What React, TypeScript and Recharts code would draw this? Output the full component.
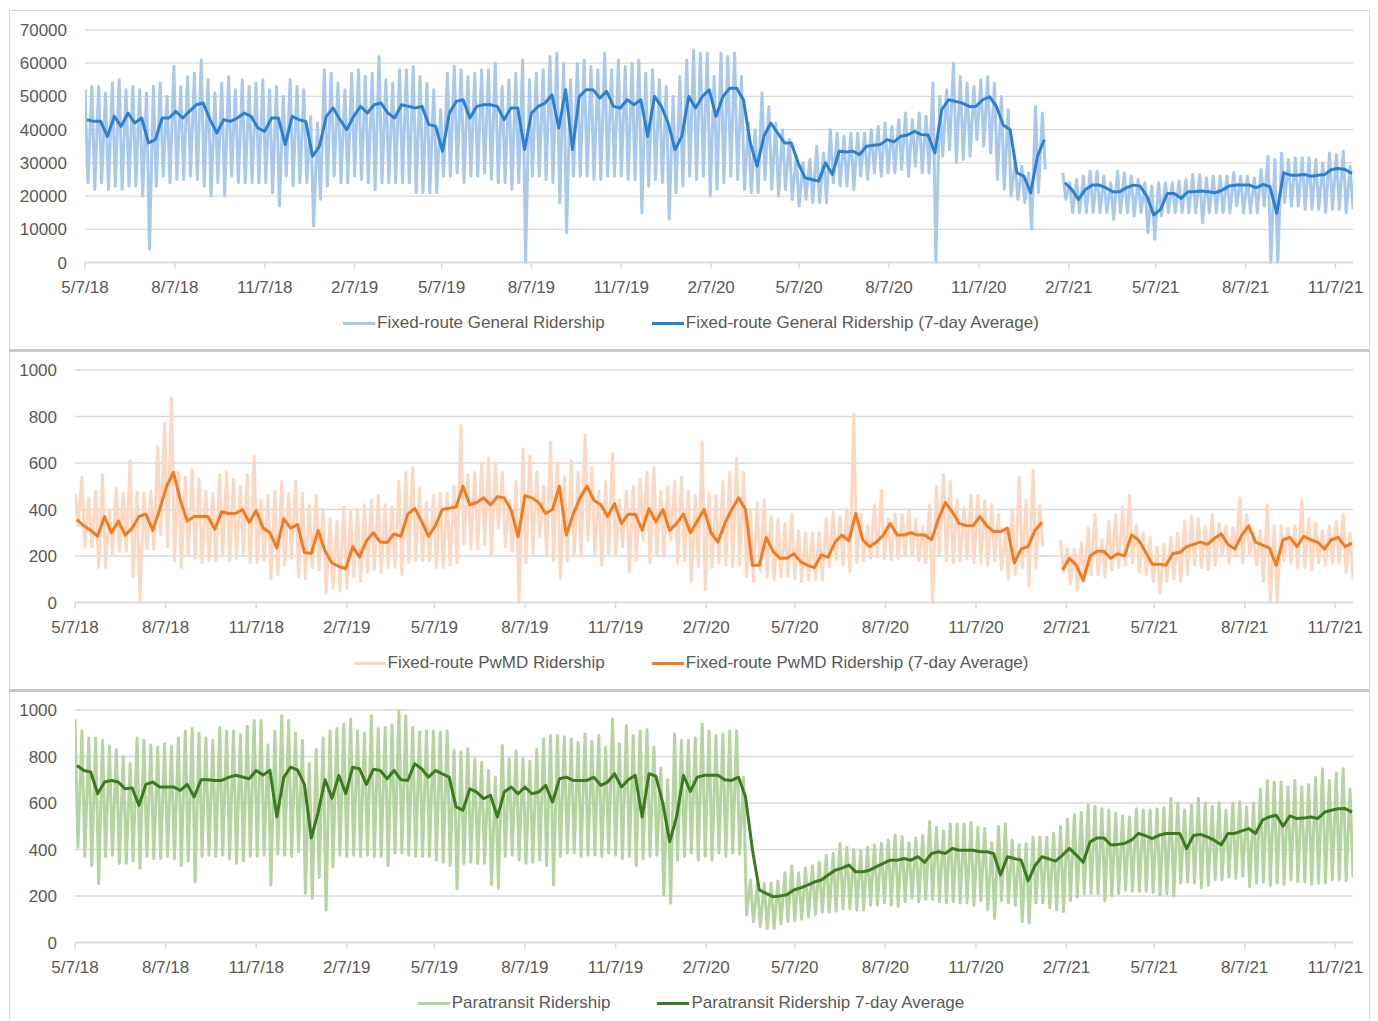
import React from 'react'
import { LineChart, Line, XAxis, YAxis, CartesianGrid, Legend } from 'recharts'

// x positions are days since 5/7/18, one entry per week (w -> day 7w)
const tickDays = [0, 92, 184, 276, 365, 457, 549, 641, 731, 823, 915, 1007, 1096, 1188, 1280]
const tickLabels = ['5/7/18', '8/7/18', '11/7/18', '2/7/19', '5/7/19', '8/7/19', '11/7/19', '2/7/20', '5/7/20', '8/7/20', '11/7/20', '2/7/21', '5/7/21', '8/7/21', '11/7/21']

// fixed-route general ridership, thousands (weekday high / weekend low / 7-day avg)
const generalHi = [
    52, 53, 53, 51, 54, 55, 52, 53, 52, 51,
    53, 54, 50, 59, 53, 56, 57, 61, 55, 51,
    54, 56, 52, 55, 53, 54, 55, 52, 53, 50,
    55, 53, 52, 44, 42, 58, 57, 54, 52, 57,
    58, 56, 57, 62, 55, 54, 58, 58, 59, 56,
    54, 52, 46, 57, 59, 58, 56, 57, 58, 58,
    60, 53, 55, 57, 61, 55, 57, 58, 62, 63,
    60, 55, 60, 61, 59, 58, 63, 58, 61, 59,
    60, 61, 57, 58, 55, 53, 50, 56, 61, 64,
    63, 63, 56, 63, 62, 63, 56, 42, 40, 51,
    47, 42, 40, 37, 32, 30, 31, 35, 33, 40,
    39, 38, 39, 39, 39, 40, 41, 42, 41, 43,
    45, 43, 45, 44, 54, 50, 52, 60, 56, 54,
    53, 55, 56, 54, 50, 46, 30, 29, 27, 47,
    45, null, null, 27, 24, 25, 26, 27.5, 27.5, 26,
    24, 27.5, 27, 26, 25, 24, 23, 24, 24, 24,
    24.5, 25, 26.5, 26.5, 25.5, 26, 26, 26, 27, 26,
    26, 25.5, 28, 32, 31, 33, 31, 31.5, 31.5, 31.5,
    31, 30, 33, 32.5, 33.5, 29,
]
const generalLo = [
    24, 22, 24, 22, 23, 22, 23, 23, 20, 4,
    23, 26, 24, 25, 25, 26, 25, 23, 20, 24,
    20, 26, 24, 24, 24, 24, 24, 21, 17, 26,
    23, 24, 24, 11, 19, 23, 26, 24, 24, 26,
    25, 24, 22, 24, 24, 24, 24, 24, 21, 21,
    21, 21, 26, 26, 27, 24, 26, 26, 27, 25,
    24, 24, 22, 24, 0, 26, 26, 25, 24, 18,
    9, 26, 26, 26, 25, 25, 26, 26, 26, 25,
    25, 15, 23, 25, 24, 13, 21, 23, 26, 25,
    26, 20, 22, 24, 26, 25, 22, 21, 21, 25,
    22, 20, 22, 19, 17, 19, 18, 18, 18, 24,
    23, 23, 22, 26, 25, 27, 26, 27, 27, 28,
    26, 29, 27, 27, 0, 32, 34, 30, 31, 32,
    37, 35, 33, 25, 22, 20, 19, 18, 10, 21,
    28, null, null, 19, 15, 15, 15, 15, 15, 15,
    13, 15, 15, 14, 15, 9, 7, 14, 15, 15,
    15, 15, 15, 12, 15, 15, 15, 15, 17, 15,
    15, 15, 17, 0, 0, 18, 17, 17, 16, 16,
    16, 15, 16, 16, 15, 16,
]
const generalAvg = [
    43, 42.5, 42.5, 38, 44, 41, 45, 42, 43.5, 36,
    37, 43.5, 43.5, 45.5, 43.5, 45.5, 47.5, 48, 43, 39,
    43, 42.5, 43.5, 45, 44, 40.5, 39.5, 43.5, 43.5, 35.5,
    44, 43, 42.5, 32, 35, 44, 46.5, 43, 40, 44,
    47, 45, 47.5, 48, 45, 43.5, 47.5, 47, 46.5, 47,
    41.5, 41, 33.5, 45, 48.5, 49, 43.5, 47, 47.5, 47.5,
    47, 43, 46.5, 46.5, 34, 45, 47, 48, 50.5, 40.5,
    52, 34, 50, 52, 52, 49.5, 51.5, 47, 46.5, 49,
    47.5, 49, 38, 50, 47, 42, 34, 38, 50, 46.5,
    50, 52, 44, 50, 52.5, 52.5, 49, 36, 29, 38,
    42, 39, 36, 36, 30, 25.5, 25, 24.5, 30, 26.5,
    33.5, 33.3, 33.5, 32.5, 35, 35.3, 35.5, 37, 36.3, 38,
    38.4, 39.5, 38.5, 38.4, 33, 46, 49, 48.5, 48, 47,
    47, 49, 49.9, 47, 41.4, 40, 27, 26, 21, 32,
    37, null, null, 24, 22, 19, 22, 23.3, 23.3, 22.5,
    21.3, 21.3, 22.5, 23.3, 23, 20, 14.3, 16, 20.8, 20.8,
    19.3, 21.3, 21.3, 21.5, 21.3, 21, 21.8, 23, 23.3, 23.3,
    23.3, 22.5, 23.5, 22.8, 14.8, 27, 26.3, 26.3, 26.5, 26,
    26.3, 26.5, 28, 28.3, 28, 26.8,
]

// fixed-route PwMD ridership
const pwmdHi = [
    470, 540, 450, 480, 550, 400, 490, 470, 610, 475,
    470, 480, 670, 770, 880, 560, 540, 570, 530, 480,
    470, 550, 560, 530, 500, 550, 630, 440, 460, 480,
    520, 470, 520, 470, 420, 460, 400, 360, 350, 410,
    390, 400, 420, 440, 460, 420, 410, 520, 560, 580,
    490, 430, 460, 470, 470, 500, 760, 550, 560, 600,
    620, 600, 560, 440, 520, 660, 630, 560, 500, 690,
    600, 540, 610, 560, 720, 580, 480, 520, 640, 440,
    480, 500, 530, 560, 580, 480, 500, 520, 540, 480,
    460, 690, 470, 460, 520, 560, 620, 560, 400, 430,
    440, 370, 360, 340, 380, 310, 300, 300, 300, 360,
    390, 370, 400, 810, 380, 330, 420, 480, 360, 380,
    380, 400, 360, 330, 420, 500, 550, 520, 440, 410,
    460, 460, 440, 420, 380, 300, 400, 540, 440, 570,
    420, null, null, 270, 230, 230, 260, 320, 380, 270,
    350, 380, 410, 460, 330, 300, 280, 240, 250, 280,
    300, 350, 370, 360, 330, 380, 340, 330, 320, 450,
    380, 300, 310, 420, 330, 330, 320, 330, 440, 360,
    340, 310, 330, 350, 380, 300,
]
const pwmdLo = [
    330, 240, 240, 150, 150, 210, 220, 220, 110, 5,
    230, 230, 290, 240, 180, 150, 200, 190, 170, 180,
    180, 200, 180, 190, 210, 170, 170, 180, 100, 120,
    160, 190, 110, 100, 150, 140, 40, 60, 50, 60,
    110, 90, 130, 140, 130, 150, 150, 120, 170, 180,
    180, 180, 150, 150, 160, 170, 250, 230, 230, 250,
    200, 320, 240, 220, 0, 170, 210, 280, 200, 180,
    104, 180, 200, 200, 269, 200, 160, 211, 200, 240,
    133, 180, 269, 169, 200, 197, 269, 169, 180, 90,
    154, 54, 150, 169, 160, 154, 161, 110, 90, 133,
    110, 97, 111, 111, 100, 90, 97, 100, 97, 154,
    183, 160, 133, 169, 180, 190, 197, 190, 183, 190,
    200, 200, 180, 170, 0, 210, 180, 170, 180, 190,
    170, 170, 160, 180, 140, 100, 120, 150, 70, 150,
    240, null, null, 130, 80, 55, 90, 120, 120, 110,
    140, 150, 160, 170, 130, 120, 90, 40, 90, 100,
    90, 120, 160, 150, 140, 160, 200, 170, 200, 170,
    210, 160, 90, 0, 0, 180, 170, 150, 150, 140,
    170, 160, 170, 170, 130, 100,
]
const pwmdAvg = [
    357, 330, 310, 285, 370, 300, 350, 290, 320, 370,
    380, 310, 400, 500, 560, 440, 350, 370, 370, 370,
    315, 390, 383, 383, 400, 345, 395, 320, 300, 235,
    360, 320, 335, 215, 211, 310, 220, 170, 155, 145,
    240, 195, 265, 300, 260, 258, 295, 285, 380, 405,
    350, 285, 330, 400, 405, 411, 500, 420, 430, 450,
    420, 455, 450, 397, 283, 460, 450, 430, 383, 400,
    500, 290, 380, 450, 500, 440, 420, 370, 425, 340,
    380, 380, 311, 404, 347, 400, 310, 340, 380, 300,
    350, 400, 300, 260, 340, 400, 450, 400, 160, 160,
    280, 220, 190, 190, 210, 175, 160, 150, 205, 195,
    260, 290, 265, 383, 270, 240, 260, 290, 340, 290,
    290, 300, 290, 290, 270, 360, 430, 390, 340, 330,
    330, 370, 330, 305, 305, 320, 170, 230, 240, 310,
    345, null, null, 140, 190, 160, 95, 200, 220, 220,
    190, 210, 200, 290, 270, 220, 165, 165, 160, 211,
    215, 240, 250, 260, 250, 275, 295, 250, 230, 290,
    330, 260, 247, 235, 160, 270, 280, 240, 285, 270,
    260, 230, 270, 280, 240, 255,
]

// paratransit ridership
const paraHi = [
    960, 910, 880, 880, 870, 845, 830, 800, 770, 880,
    870, 850, 840, 855, 845, 880, 910, 920, 900, 880,
    870, 925, 910, 910, 895, 930, 955, 955, 850, 910,
    975, 955, 900, 870, 770, 830, 880, 910, 920, 940,
    960, 910, 900, 975, 920, 925, 935, 995, 975, 925,
    905, 910, 910, 905, 910, 826, 820, 833, 790, 775,
    740, 710, 847, 790, 825, 790, 780, 830, 876, 890,
    890, 885, 876, 860, 897, 865, 890, 840, 961, 855,
    933, 890, 910, 915, 840, 750, 700, 897, 870, 870,
    880, 940, 910, 890, 897, 910, 910, 710, 270, 250,
    255, 255, 265, 300, 330, 300, 320, 330, 345, 375,
    383, 426, 410, 400, 395, 410, 420, 426, 440, 461,
    455, 430, 450, 460, 520, 495, 480, 510, 510, 510,
    517, 495, 490, 430, 500, 510, 440, 420, 425, 454,
    454, 454, 470, 500, 530, 550, 560, 590, 585, 575,
    570, 555, 545, 540, 575, 570, 570, 575, 580, 620,
    600, 570, 590, 620, 600, 585, 600, 570, 600, 605,
    583, 600, 660, 697, 690, 690, 670, 697, 670, 680,
    710, 747, 697, 730, 747, 660,
]
const paraLo = [
    410, 370, 330, 254, 370, 375, 340, 340, 350, 320,
    370, 360, 360, 370, 360, 330, 350, 260, 370, 375,
    370, 375, 360, 340, 350, 370, 370, 375, 247, 380,
    375, 370, 390, 211, 190, 280, 140, 325, 375, 370,
    375, 370, 375, 370, 370, 330, 385, 385, 375, 370,
    370, 370, 355, 345, 330, 230, 340, 345, 340, 340,
    250, 233, 370, 375, 355, 340, 345, 355, 330, 247,
    370, 385, 385, 370, 375, 375, 370, 385, 375, 360,
    370, 330, 360, 370, 375, 204, 169, 355, 370, 385,
    355, 370, 355, 385, 370, 385, 380, 119, 90, 69,
    60, 60, 80, 90, 95, 100, 110, 120, 130, 130,
    135, 145, 145, 140, 140, 160, 160, 170, 160, 155,
    175, 190, 175, 185, 185, 175, 170, 175, 170, 170,
    160, 180, 140, 104, 180, 170, 160, 90, 83, 170,
    170, 150, 140, 133, 180, 195, 210, 210, 210, 180,
    200, 210, 225, 220, 220, 220, 215, 205, 210, 200,
    255, 260, 255, 235, 245, 270, 270, 280, 275, 285,
    240, 255, 260, 245, 255, 250, 270, 260, 260, 250,
    255, 255, 270, 270, 265, 280,
]
const paraAvg = [
    761, 740, 733, 640, 690, 697, 690, 661, 665, 590,
    680, 690, 669, 669, 669, 654, 680, 626, 700, 700,
    697, 697, 710, 719, 712, 704, 740, 720, 740, 540,
    710, 754, 742, 680, 450, 560, 700, 620, 719, 640,
    754, 747, 680, 745, 740, 704, 740, 700, 697, 769,
    747, 711, 740, 725, 711, 583, 569, 661, 647, 619,
    633, 540, 647, 669, 640, 669, 640, 647, 676, 604,
    704, 711, 697, 697, 697, 711, 676, 690, 726, 669,
    700, 719, 540, 726, 715, 600, 433, 540, 719, 650,
    711, 719, 719, 719, 700, 697, 711, 626, 400, 226,
    211, 197, 200, 205, 226, 235, 247, 260, 269, 290,
    311, 320, 333, 304, 304, 311, 326, 340, 354, 354,
    361, 354, 369, 345, 383, 390, 383, 404, 397, 397,
    397, 390, 390, 383, 290, 369, 361, 354, 265, 330,
    369, 360, 350, 376, 405, 376, 345, 433, 450, 450,
    419, 422, 426, 440, 469, 460, 447, 461, 469, 469,
    469, 404, 460, 465, 454, 440, 420, 469, 469, 480,
    490, 469, 526, 540, 547, 500, 545, 533, 535, 540,
    533, 560, 569, 575, 576, 561,
]

const generalTicks = [0, 10000, 20000, 30000, 40000, 50000, 60000, 70000]
const smallTicks = [0, 200, 400, 600, 800, 1000]

const FONT = '"Liberation Sans", Arial, sans-serif'
const TEXT = '#595959'
const GRID = '#d9d9d9'

type Pt = { day: number; v: number | null }

function rawPoints(hi: (number | null)[], lo: (number | null)[], scale: number): Pt[] {
    const out: Pt[] = []
    hi.forEach((h, w) => {
        out.push({ day: w * 7, v: h == null ? null : h * scale })
        out.push({ day: w * 7 + 3, v: lo[w] == null ? null : (lo[w] as number) * scale })
    })
    return out
}

function avgPoints(avg: (number | null)[], scale: number): Pt[] {
    return avg.map((a, w) => ({ day: w * 7 + 2, v: a == null ? null : a * scale }))
}

type PanelProps = {
    top: number
    raw: Pt[]
    avg: Pt[]
    yTicks: number[]
    yWidth: number
    lightColor: string
    darkColor: string
    lightName: string
    darkName: string
}

function Panel({ top, raw, avg, yTicks, yWidth, lightColor, darkColor, lightName, darkName }: PanelProps) {
    const renderLegend = () => (
        <div style={{ display: 'flex', justifyContent: 'center', alignItems: 'center', height: 24, paddingLeft: 20, fontFamily: FONT, fontSize: 17, color: TEXT }}>
            <span style={{ display: 'inline-block', width: 32, height: 3, background: lightColor, marginRight: 2 }} />
            <span>{lightName}</span>
            <span style={{ display: 'inline-block', width: 32, height: 3, background: darkColor, marginLeft: 47, marginRight: 2 }} />
            <span>{darkName}</span>
        </div>
    )

    return (
        <div style={{ position: 'absolute', left: 9, top, width: 1361, height: 340, borderLeft: '1px solid #d4d4d4', borderRight: '1px solid #d4d4d4', boxSizing: 'border-box' }}>
            <div style={{ position: 'absolute', left: -1, top: 0 }}>
                <LineChart width={1361} height={340} margin={{ top: 20, right: 17, left: 0, bottom: 15 }}>
                    <CartesianGrid vertical={false} stroke={GRID} strokeWidth={1.3} />
                    <XAxis
                        type="number"
                        dataKey="day"
                        domain={[0, 1298]}
                        allowDataOverflow
                        ticks={tickDays}
                        interval={0}
                        tickFormatter={(d: number) => tickLabels[tickDays.indexOf(d)]}
                        height={48.5}
                        stroke={GRID}
                        strokeWidth={1.5}
                        tickSize={6}
                        tickMargin={12.6}
                        tick={{ fill: TEXT, fontSize: 17, fontFamily: FONT }}
                    />
                    <YAxis
                        type="number"
                        domain={[yTicks[0], yTicks[yTicks.length - 1]]}
                        ticks={yTicks}
                        width={yWidth}
                        axisLine={false}
                        tickLine={false}
                        tickSize={0}
                        tickMargin={18}
                        tick={{ fill: TEXT, fontSize: 17, fontFamily: FONT }}
                    />
                    <Legend verticalAlign="bottom" height={24} content={renderLegend} />
                    <Line data={raw} dataKey="v" type="linear" stroke={lightColor} strokeWidth={3} dot={false} activeDot={false} isAnimationActive={false} strokeLinejoin="round" />
                    <Line data={avg} dataKey="v" type="linear" stroke={darkColor} strokeWidth={3} dot={false} activeDot={false} isAnimationActive={false} strokeLinejoin="round" />
                </LineChart>
            </div>
        </div>
    )
}

export default function App() {
    return (
        <div style={{ position: 'absolute', left: 0, top: 0, width: 1378, height: 1021, overflow: 'hidden', background: '#ffffff' }}>
            <div style={{ position: 'absolute', left: 9, top: 10, width: 1361, height: 1, background: '#d4d4d4' }} />
            <Panel
                top={10}
                raw={rawPoints(generalHi, generalLo, 1000)}
                avg={avgPoints(generalAvg, 1000)}
                yTicks={generalTicks}
                yWidth={76}
                lightColor="#a9c9ec"
                darkColor="#2d7fd0"
                lightName="Fixed-route General Ridership"
                darkName="Fixed-route General Ridership (7-day Average)"
            />
            <Panel
                top={350}
                raw={rawPoints(pwmdHi, pwmdLo, 1)}
                avg={avgPoints(pwmdAvg, 1)}
                yTicks={smallTicks}
                yWidth={66}
                lightColor="#fcd8c2"
                darkColor="#f37a1f"
                lightName="Fixed-route PwMD Ridership"
                darkName="Fixed-route PwMD Ridership (7-day Average)"
            />
            <Panel
                top={690}
                raw={rawPoints(paraHi, paraLo, 1)}
                avg={avgPoints(paraAvg, 1)}
                yTicks={smallTicks}
                yWidth={66}
                lightColor="#b5d5a0"
                darkColor="#3c7a21"
                lightName="Paratransit Ridership"
                darkName="Paratransit Ridership 7-day Average"
            />
            <div style={{ position: 'absolute', left: 9, top: 349, width: 1361, height: 3, background: '#c8c8c8' }} />
            <div style={{ position: 'absolute', left: 9, top: 689, width: 1361, height: 3, background: '#c8c8c8' }} />
        </div>
    )
}
